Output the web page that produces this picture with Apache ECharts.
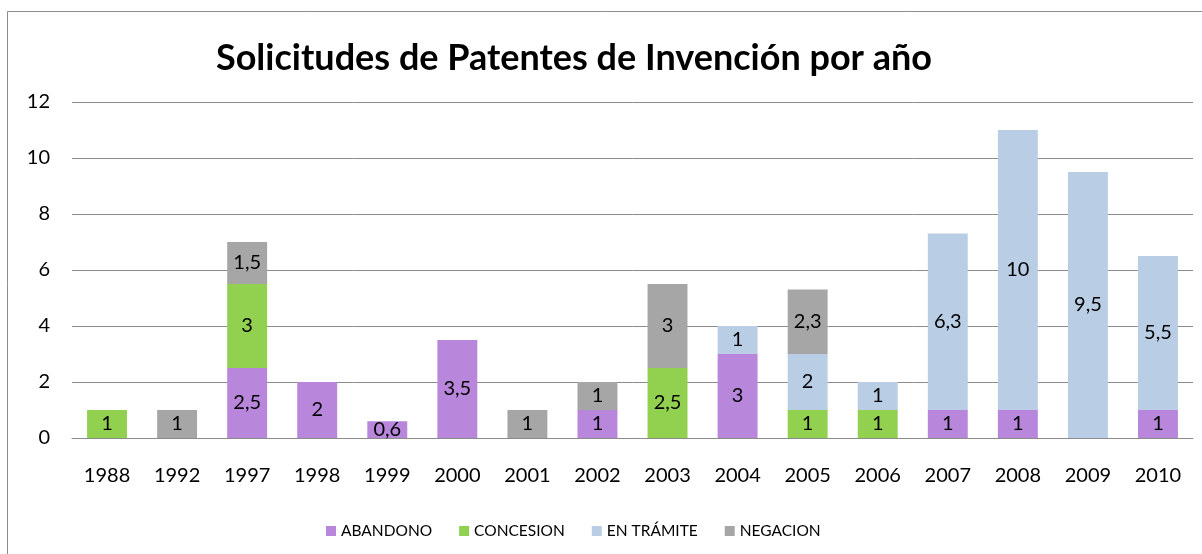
<!DOCTYPE html>
<html>
<head>
<meta charset="utf-8">
<script src="https://cdn.jsdelivr.net/npm/echarts@6/dist/echarts.min.js"></script>
<style>
html,body{margin:0;padding:0;background:#fff;}
#chart{width:1202px;height:554px;}
</style>
</head>
<body>
<div id="chart"></div>
<script>
const years = ['1988','1992','1997','1998','1999','2000','2001','2002','2003','2004','2005','2006','2007','2008','2009','2010'];
const abandono  = [0, 0, 2.5, 2, 0.6, 3.5, 0, 1, 0,   3, 0, 0, 1,   1,  0,   1];
const concesion = [1, 0, 3,   0, 0,   0,   0, 0, 2.5, 0, 1, 1, 0,   0,  0,   0];
const enTramite = [0, 0, 0,   0, 0,   0,   0, 0, 0,   1, 2, 1, 6.3, 10, 9.5, 5.5];
const negacion  = [0, 1, 1.5, 0, 0,   0,   1, 1, 3,   0, 2.3, 0, 0, 0,  0,   0];
const yTicks = {min: 0, max: 12, interval: 2};

const FONT = 'Lato, "Open Sans", sans-serif';
const chart = echarts.init(document.getElementById('chart'));

function mk(name, data, color) {
  return {
    name: name,
    type: 'bar',
    stack: 'total',
    barWidth: '57%',
    data: data.map(v => v === 0 ? '-' : v),
    itemStyle: {color: color},
    label: {
      show: true,
      position: 'inside',
      color: '#000',
      fontFamily: FONT,
      fontSize: 20,
      formatter: p => String(p.value).replace('.', ',')
    }
  };
}

chart.setOption({
  animation: false,
  backgroundColor: '#fff',
  title: {
    text: 'Solicitudes de Patentes de Invención por año',
    left: 211,
    top: 35,
    textStyle: {fontFamily: FONT, fontWeight: 'bold', fontSize: 36, color: '#000'}
  },
  graphic: [{
    type: 'rect',
    shape: {x: 7.5, y: 11.5, width: 1210, height: 560},
    style: {fill: 'none', stroke: '#8c8c8c', lineWidth: 1},
    silent: true,
    z: -1
  }],
  legend: {
    left: 321,
    top: 518,
    itemWidth: 10,
    itemHeight: 10,
    itemGap: 27,
    icon: 'rect',
    textStyle: {fontFamily: FONT, fontSize: 15.5, color: '#000'},
    data: ['ABANDONO', 'CONCESION', 'EN TRÁMITE', 'NEGACION']
  },
  grid: {left: 72, right: 9, top: 102, bottom: 116},
  xAxis: {
    type: 'category',
    data: years,
    axisTick: {show: false},
    axisLine: {show: true, lineStyle: {color: '#8c8c8c', width: 1}},
    axisLabel: {fontFamily: FONT, fontSize: 20, color: '#000', margin: 28}
  },
  yAxis: {
    type: 'value',
    min: yTicks.min,
    max: yTicks.max,
    interval: yTicks.interval,
    axisLine: {show: false},
    axisTick: {show: false},
    axisLabel: {fontFamily: FONT, fontSize: 20, color: '#000', margin: 22},
    splitLine: {lineStyle: {color: '#8c8c8c', width: 1}}
  },
  series: [
    mk('ABANDONO', abandono, '#B886DB'),
    mk('CONCESION', concesion, '#92D050'),
    mk('EN TRÁMITE', enTramite, '#B9CDE5'),
    mk('NEGACION', negacion, '#A6A6A6')
  ]
});
</script>
</body>
</html>
